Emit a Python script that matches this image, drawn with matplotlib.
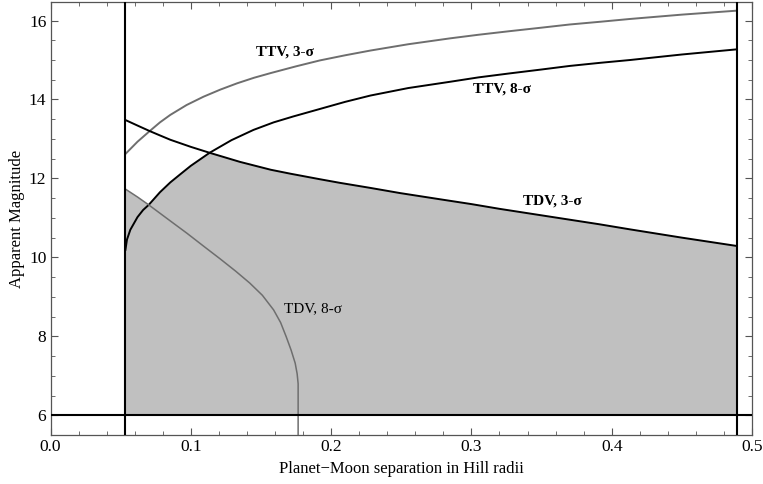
import numpy as np
import matplotlib.pyplot as plt
from matplotlib.ticker import MultipleLocator

# ── Data ──────────────────────────────────────────────────────
x_left, x_right = 0.0534, 0.489
mag_floor = 6.0

ttv3_x = [0.0534, 0.0620, 0.0707, 0.0780, 0.0854, 0.0970, 0.109, 0.121, 0.133, 0.145, 0.157, 0.175,
          0.192, 0.210, 0.228, 0.255, 0.285, 0.305, 0.327, 0.350, 0.370, 0.392, 0.413, 0.450, 0.489]
ttv3_y = [12.62, 12.93, 13.20, 13.42, 13.61, 13.86, 14.07, 14.25, 14.41, 14.55, 14.67, 14.84,
          14.99, 15.12, 15.24, 15.40, 15.55, 15.64, 15.73, 15.82, 15.90, 15.97, 16.04, 16.15, 16.25]

ttv8_x = [0.0534, 0.0545, 0.0569, 0.0620, 0.0660, 0.0700, 0.0780, 0.0854, 0.0930, 0.1000, 0.1134, 0.129,
          0.1447, 0.159, 0.173, 0.192, 0.210, 0.228, 0.255, 0.285, 0.305, 0.327, 0.350, 0.370, 0.392,
          0.413, 0.450, 0.489]
ttv8_y = [10.19, 10.45, 10.70, 11.02, 11.20, 11.33, 11.65, 11.90, 12.12, 12.32, 12.65, 12.97,
          13.23, 13.42, 13.57, 13.76, 13.94, 14.10, 14.29, 14.45, 14.56, 14.66, 14.76, 14.85, 14.93,
          15.00, 15.14, 15.27]

tdv3_x = [0.0534, 0.0620, 0.0707, 0.0780, 0.0854, 0.1000, 0.1134, 0.135, 0.157, 0.171, 0.192, 0.206,
          0.228, 0.249, 0.278, 0.300, 0.320, 0.340, 0.360, 0.391, 0.413, 0.450, 0.489]
tdv3_y = [13.48, 13.34, 13.20, 13.09, 12.98, 12.80, 12.65, 12.42, 12.22, 12.12, 11.98, 11.89,
          11.76, 11.63, 11.47, 11.35, 11.23, 11.12, 11.01, 10.84, 10.71, 10.50, 10.29]

tdv8_x = [0.0534, 0.0620, 0.0700, 0.0840, 0.0973, 0.1100, 0.1210, 0.1320, 0.1420, 0.1510, 0.1590,
          0.1640, 0.1680, 0.1715, 0.1744, 0.1758, 0.1765, 0.1765]
tdv8_y = [11.73, 11.53, 11.33, 10.96, 10.61, 10.26, 9.96, 9.65, 9.35, 9.04, 8.67,
          8.35, 7.99, 7.65, 7.32, 7.05, 6.80, 5.30]

labels = ["TTV, 3-σ", "TTV, 8-σ", "TDV, 3-σ", "TDV, 8-σ"]
label_x = [0.167, 0.322, 0.358, 0.187]
label_y = [15.21, 14.26, 11.42, 8.69]
label_weight = ["bold", "bold", "bold", "normal"]

# ── Style ─────────────────────────────────────────────────────
plt.rcParams['font.family'] = ['Liberation Serif', 'DejaVu Serif']

fig = plt.figure(figsize=(7.63, 4.84), dpi=100)
ax = fig.add_axes([50.5 / 763, 1 - 435 / 484, 701.5 / 763, 433 / 484])

# ── Shaded region: upper edge follows TDV 8σ, then TTV 8σ, then TDV 3σ
ttv8_x_a, ttv8_y_a = np.array(ttv8_x), np.array(ttv8_y)
tdv3_x_a, tdv3_y_a = np.array(tdv3_x), np.array(tdv3_y)
tdv8_x_a, tdv8_y_a = np.array(tdv8_x), np.array(tdv8_y)
m1 = tdv8_x_a <= 0.070
m2 = (ttv8_x_a > 0.070) & (ttv8_x_a <= 0.1134)
m3 = tdv3_x_a > 0.1134
edge_x = np.concatenate([[x_left], tdv8_x_a[m1], ttv8_x_a[m2], tdv3_x_a[m3], [x_right]])
edge_y = np.concatenate([[mag_floor], tdv8_y_a[m1], ttv8_y_a[m2], tdv3_y_a[m3], [mag_floor]])
ax.fill(edge_x, edge_y, color="#c0c0c0", lw=0, zorder=1)

# ── Curves ────────────────────────────────────────────────────
ax.plot(ttv3_x, ttv3_y, color="#6e6e6e", lw=1.4, zorder=3)
ax.plot(ttv8_x, ttv8_y, color="black", lw=1.4, zorder=3)
ax.plot(tdv3_x, tdv3_y, color="black", lw=1.4, zorder=3)
ax.plot(tdv8_x, tdv8_y, color="#6e6e6e", lw=1.1, zorder=3)

ax.axvline(x_left, color="black", lw=1.5, zorder=4)
ax.axvline(x_right, color="black", lw=1.5, zorder=4)
ax.axhline(mag_floor, color="black", lw=1.5, zorder=4)

for txt, lx, ly, w in zip(labels, label_x, label_y, label_weight):
    ax.text(lx, ly, txt, ha="center", va="center", fontsize=11,
            fontweight=w, zorder=5)

# ── Axes ──────────────────────────────────────────────────────
ax.set_xlim(0, 0.5)
ax.set_ylim(5.5, 16.47)
ax.xaxis.set_major_locator(MultipleLocator(0.1))
ax.xaxis.set_minor_locator(MultipleLocator(0.02))
ax.yaxis.set_major_locator(MultipleLocator(2))
ax.yaxis.set_minor_locator(MultipleLocator(0.5))
ax.xaxis.set_major_formatter(lambda v, p: f"{v:.1f}")

ax.tick_params(which="both", direction="in", top=True, right=True,
               color="#555555", labelsize=12.5, pad=3)
ax.tick_params(which="major", length=5, width=0.8)
ax.tick_params(which="minor", length=3, width=0.6)
for s in ax.spines.values():
    s.set_color("#555555")
    s.set_linewidth(0.9)

ax.set_xlabel("Planet\u2212Moon separation in Hill radii", fontsize=12, labelpad=4)
ax.set_ylabel("Apparent Magnitude", fontsize=12, labelpad=3)

fig.savefig("out.png", dpi=100)
